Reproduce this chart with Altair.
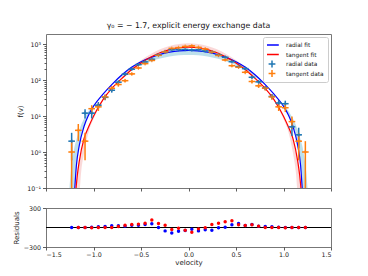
import altair as alt
import pandas as pd
import numpy as np

# ---------------- data ----------------
bin_v = [-1.230, -1.160, -1.089, -1.019, -0.949, -0.878, -0.808, -0.738, -0.668,
         -0.597, -0.527, -0.457, -0.386, -0.316, -0.246, -0.176, -0.105, -0.035,
         0.035, 0.105, 0.176, 0.246, 0.316, 0.386, 0.457, 0.527, 0.597, 0.668,
         0.738, 0.808, 0.878, 0.949, 1.019, 1.089, 1.160, 1.230]
radial_counts = [2, 0, 12, 12, 20, 33, 52, 87, 145, 200, 268, 318, 377, 499, 611, 691,
                 701, 708, 689, 696, 644, 600, 504, 429, 324, 237, 207, 119, 89, 60, 35,
                 23, 22, 5, 3, 0]
tangent_counts = [1, 4, 2, 16, 18, 34, 59, 75, 96, 148, 216, 286, 350, 486, 606, 754,
                  795, 857, 888, 806, 728, 595, 481, 361, 250, 227, 164, 91, 69, 59, 34,
                  18, 17, 7, 2, 1]
radial_resid = [0, 0, 0, 5, 10, 15, 26, 26, 21, 36, 36, 47, 57, 0, -52, -83, -57, -45,
                -26, -52, -36, -41, -5, 5, 41, 62, 31, 47, 21, 15, 10, 5, 0, 0, 0, 0]
tangent_resid = [None, 0, 0, -5, 0, 0, 0, 15, 36, 47, 52, 67, 114, 62, 36, -31, -10, -41,
                 -72, -21, -5, 47, 67, 88, 103, 41, 31, 41, 21, 0, 0, 0, -5, 0, 0, 0]
half_bin = 0.035

# fit curves (v >= 0 half, curves are symmetric)
radial_fit_v = [0, .1, .2, .3, .4, .5, .6, .7, .8, .9, 1.0, 1.05, 1.1, 1.15, 1.18, 1.2]
radial_fit_f = [665, 646, 593, 514, 420, 323, 226, 140, 78.5, 40.6, 18.7, 10.9, 5.1, 1.5, 0.42, 0.073]
tangent_fit_v = [0, .1, .2, .3, .4, .5, .6, .7, .8, .9, 1.0, 1.05, 1.1, 1.15, 1.17, 1.19]
tangent_fit_f = [820, 788, 698, 571, 430, 299, 193, 111, 61.3, 28.6, 9.9, 5.1, 2.35, 0.55, 0.23, 0.064]

radial_band_v = [0, .1, .2, .3, .4, .5, .6, .7, .8, .9, 1.0, 1.05, 1.1, 1.15, 1.18, 1.2, 1.22, 1.24, 1.26]
radial_band_lo = [499, 486, 449, 395, 329, 260, 191, 125, 74.8, 40.6, 18.7, 10.9, 5.1, 1.5, 0.42, 0.073, 0.05, 0.05, 0.05]
radial_band_hi = [665, 646, 593, 514, 420, 323, 226, 140, 78.5, 41.1, 20.7, 14.0, 8.4, 4.1, 2.2, 1.4, 0.69, 0.26, 0.055]
tangent_band_v = [0, .1, .2, .3, .4, .5, .6, .7, .8, .9, 1.0, 1.05, 1.1, 1.13, 1.15, 1.17, 1.19]
tangent_band_lo = [820, 788, 698, 571, 430, 299, 193, 111, 61.3, 26.4, 8.2, 3.7, 0.92, 0.28, 0.068, 0.05, 0.05]
tangent_band_hi = [1050, 1005, 882, 712, 524, 356, 219, 123.5, 63.8, 28.6, 9.9, 5.1, 2.35, 1.0, 0.55, 0.23, 0.064]

x_ticks = [-1.5, -1.0, -0.5, 0.0, 0.5, 1.0, 1.5]
y_major = [0.1, 1, 10, 100, 1000]
y_minor = [m * d for d in [0.1, 1, 10, 100] for m in range(2, 10)]
res_ticks = [-300, 0, 300]

series_names = ["radial fit", "tangent fit", "radial data", "tangent data"]
series_colors = ["#0000ff", "#ff0000", "#1f77b4", "#ff7f0e"]
line_sym = "M-1.7,0H1.7"
cross_sym = "M-0.85,0H0.85M0,-0.85V0.85"
series_shapes = [line_sym, line_sym, cross_sym, cross_sym]


def mirror(vs, *cols):
    full_v = [-v for v in reversed(vs[1:])] + list(vs)
    out = [full_v]
    for c in cols:
        out.append(list(reversed(c[1:])) + list(c))
    return out


rv, rf = mirror(radial_fit_v, radial_fit_f)
tv, tf = mirror(tangent_fit_v, tangent_fit_f)
fits = pd.DataFrame({
    "v": rv + tv,
    "f": rf + tf,
    "series": ["radial fit"] * len(rv) + ["tangent fit"] * len(tv),
})
bv, blo, bhi = mirror(radial_band_v, radial_band_lo, radial_band_hi)
rband = pd.DataFrame({"v": bv, "lo": blo, "hi": bhi})
pv, plo, phi = mirror(tangent_band_v, tangent_band_lo, tangent_band_hi)
tband = pd.DataFrame({"v": pv, "lo": plo, "hi": phi})

pts = pd.DataFrame({
    "v": bin_v * 2,
    "n": radial_counts + tangent_counts,
    "series": ["radial data"] * len(bin_v) + ["tangent data"] * len(bin_v),
})
pts = pts[pts.n > 0].copy()
pts["lo"] = np.maximum(pts.n - np.sqrt(pts.n), 0.05)
pts["hi"] = pts.n + np.sqrt(pts.n)
pts["vlo"] = pts.v - half_bin
pts["vhi"] = pts.v + half_bin

res = pd.DataFrame({
    "v": bin_v * 2,
    "r": radial_resid + tangent_resid,
    "series": ["radial"] * len(bin_v) + ["tangent"] * len(bin_v),
})
zero = pd.DataFrame({"r": [0]})

W, H1, H2 = 285, 154, 39
xscale = alt.Scale(domain=[-1.5, 1.5], nice=False, zero=False)
yscale = alt.Scale(type="log", domain=[0.1, 1900], nice=False)
cscale = alt.Scale(domain=series_names, range=series_colors)
color = alt.Color("series:N", scale=cscale)

is_major = "abs(log(datum.value)/LN10 - round(log(datum.value)/LN10)) < 0.001"
top_x_axis = alt.Axis(values=x_ticks, labels=False, ticks=True, tickSize=3, title=None,
                      grid=False, domain=False, minExtent=0)
y_axis = alt.Axis(values=y_major + y_minor, orient="left", grid=False, domain=False,
                  tickSize={"condition": {"test": is_major, "value": 3.5}, "value": 2},
                  labelExpr=("!(" + is_major + ") ? '' : datum.value < 0.5 ? '10⁻¹' : datum.value < 5 ? '10⁰' : "
                             "datum.value < 50 ? '10¹' : datum.value < 500 ? '10²' : '10³'"),
                  title="f(v)", titleX=-23, titleY=H1 / 2, labelPadding=2, labelOverlap=False)

band_r = alt.Chart(rband).mark_area(color="#add8e6", opacity=0.8, interpolate="monotone", clip=True).encode(
    x=alt.X("v:Q", scale=xscale, axis=top_x_axis),
    y=alt.Y("lo:Q", scale=yscale, axis=y_axis),
    y2="hi:Q",
)
band_t = alt.Chart(tband).mark_area(color="#f08080", opacity=0.3, interpolate="monotone", clip=True).encode(
    x=alt.X("v:Q", scale=xscale),
    y=alt.Y("lo:Q", scale=yscale),
    y2="hi:Q",
)
lines = alt.Chart(fits).mark_line(strokeWidth=1.2, interpolate="monotone", clip=True).encode(
    x=alt.X("v:Q", scale=xscale),
    y=alt.Y("f:Q", scale=yscale),
    color=color,
    detail="series:N",
)
vbars = alt.Chart(pts).mark_rule(strokeWidth=1.5, clip=True).encode(
    x=alt.X("v:Q", scale=xscale),
    y=alt.Y("lo:Q", scale=yscale),
    y2="hi:Q",
    color=color,
)
hbars = alt.Chart(pts).mark_rule(strokeWidth=1.5, clip=True).encode(
    x=alt.X("vlo:Q", scale=xscale),
    x2="vhi:Q",
    y=alt.Y("n:Q", scale=yscale),
    color=color,
)
legend_spec = alt.Legend(title=None, orient="none", legendX=217, legendY=3,
                         fillColor="white", strokeColor="#cccccc", cornerRadius=2,
                         padding=4, labelFontSize=5.8, labelOffset=9,
                         symbolSize=64, symbolStrokeWidth=1.5, symbolOpacity=1,
                         rowPadding=1.5, clipHeight=8, labelColor="#222")
legend_layer = alt.Chart(pts).mark_point(filled=False, size=20, strokeWidth=1.2, clip=True).encode(
    x=alt.X("v:Q", scale=xscale),
    y=alt.Y("n:Q", scale=yscale),
    color=alt.Color("series:N", scale=cscale, legend=legend_spec),
    shape=alt.Shape("series:N", scale=alt.Scale(domain=series_names, range=series_shapes),
                    legend=legend_spec),
)

top = alt.layer(band_r, band_t, lines, vbars, hbars, legend_layer).properties(
    width=W, height=H1,
    title=alt.TitleParams("γ₀ = − 1.7, explicit energy exchange data", fontSize=7.8,
                          fontWeight="normal", offset=4, anchor="middle", color="#111"),
)

rscale = alt.Scale(domain=[-300, 300], nice=False)
bx = alt.X("v:Q", scale=xscale, axis=alt.Axis(values=x_ticks, format=".1f", tickSize=3, labelPadding=1,
                                              title="velocity", titlePadding=1, grid=False, domain=False))
by = alt.Y("r:Q", scale=rscale,
           axis=alt.Axis(values=res_ticks, format="d", tickSize=3.5, grid=False, domain=False,
                         title="Residuals", titleX=-26.5, titleY=H2 / 2, labelPadding=2))
zero_line = alt.Chart(zero).mark_rule(color="black", strokeWidth=1.2).encode(y=alt.Y("r:Q", scale=rscale))
res_b = alt.Chart(res[res.series == "radial"]).mark_circle(size=12, opacity=1, color="#0000ff").encode(x=bx, y=by)
res_r = alt.Chart(res[res.series == "tangent"]).mark_circle(size=12, opacity=1, color="#ff0000").encode(x=bx, y=by)
bottom = alt.layer(zero_line, res_b, res_r).properties(width=W, height=H2)

chart = alt.vconcat(top, bottom, spacing=12).properties(
    padding={"left": 4, "top": 13, "right": 5, "bottom": 5}
).configure(font="DejaVu Sans").configure_view(stroke="#777777", strokeWidth=1).configure_axis(
    labelFontSize=6.3, titleFontSize=7, titleFontWeight="normal", labelColor="#222",
    titleColor="#222", tickColor="#333", tickWidth=0.8
)

chart.save("out.html", embed_options={"renderer": "svg", "actions": False})
